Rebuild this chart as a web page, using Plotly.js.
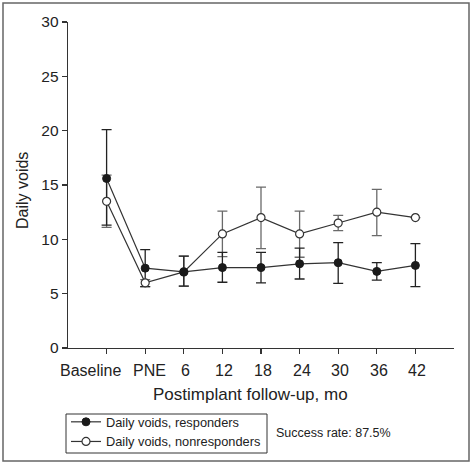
<!DOCTYPE html>
<html><head><meta charset="utf-8">
<script src="https://cdn.plot.ly/plotly-3.0.1.min.js"></script>
<style>body{margin:0;padding:0;background:#fff}#chart{width:476px;height:464px}</style>
</head><body><div id="chart"></div>
<script>
const categories = ["Baseline","PNE","6","12","18","24","30","36","42"];
const responders = [15.6, 7.35, 7.0, 7.4, 7.4, 7.75, 7.85, 7.05, 7.6];
const respErrPlus = [4.5, 1.7, 1.45, 1.4, 1.4, 1.45, 1.85, 0.8, 2.0];
const respErrMinus = [4.3, 1.7, 1.3, 1.35, 1.4, 1.4, 1.9, 0.8, 1.95];
const nonresponders = [13.5, 6.0, 7.0, 10.5, 12.0, 10.5, 11.5, 12.5, 12.0];
const nonErrPlus = [2.4, 0.3, 1.45, 2.1, 2.8, 2.1, 0.7, 2.1, 0];
const nonErrMinus = [2.4, 0.35, 1.3, 2.1, 2.85, 2.15, 0.7, 2.15, 0];
const legendNames = ["Daily voids, responders", "Daily voids, nonresponders"];
const xTitle = "Postimplant follow-up, mo";
const yTitle = "Daily voids";
const annotationText = "Success rate: 87.5%";

const errTrace = (y, plus, minus, color) => ({
  x: categories, y: y, type: "scatter", mode: "markers",
  marker: {size: 1, opacity: 0}, hoverinfo: "skip", showlegend: false,
  error_y: {type: "data", symmetric: false, array: plus, arrayminus: minus,
    color: color, thickness: 1.3, width: 5}
});

const traces = [
  errTrace(nonresponders, nonErrPlus, nonErrMinus, "#6a6a6a"),
  errTrace(responders, respErrPlus, respErrMinus, "#222"),
  {
    x: categories, y: nonresponders, name: legendNames[1], type: "scatter", mode: "lines+markers",
    line: {color: "#333", width: 1.2},
    marker: {symbol: "circle", size: 8, color: "#fff", line: {color: "#333", width: 1.2}},
    legendrank: 2
  },
  {
    x: categories, y: responders, name: legendNames[0], type: "scatter", mode: "lines+markers",
    line: {color: "#333", width: 1.2},
    marker: {symbol: "circle", size: 8, color: "#1a1a1a", line: {color: "#1a1a1a", width: 1}},
    legendrank: 1
  }
];

const W = 386, H = 326;
const px = p => (p - 68) / W;
const py = p => (348 - p) / H;

// x tick labels drawn as annotations at each category index (to allow offsets like the reference)
const tickShift = c => c === "Baseline" ? -16 : (c === "PNE" ? 4.5 : 2);
const tickAnns = categories.map((c, i) => ({
  text: c, xref: "x", yref: "paper", x: i, y: py(370), xshift: tickShift(c),
  xanchor: "center", yanchor: "middle", showarrow: false, font: {size: 16, color: "#222"}
}));

const layout = {
  width: 476, height: 464,
  margin: {l: 68, r: 22, t: 22, b: 116, autoexpand: false},
  paper_bgcolor: "#fff", plot_bgcolor: "#fff",
  font: {family: "Liberation Sans, Arial, sans-serif", color: "#222", size: 15},
  xaxis: {
    type: "category", categoryorder: "array", categoryarray: categories,
    range: [-1, 9], showgrid: false, zeroline: false, showline: true, linecolor: "#333", linewidth: 1.3,
    ticks: "outside", ticklen: 5, tickcolor: "#333", tickwidth: 1.2, showticklabels: false, automargin: false
  },
  yaxis: {
    range: [0, 30], tickvals: [0,5,10,15,20,25,30], automargin: false,
    showgrid: false, zeroline: false, showline: true, linecolor: "#333", linewidth: 1.3,
    ticks: "outside", ticklen: 5, tickcolor: "#333", tickwidth: 1.2,
    tickfont: {size: 15.5, color: "#222"}
  },
  legend: {
    x: px(66), y: py(407), xanchor: "left", yanchor: "top",
    borderwidth: 0, bgcolor: "rgba(0,0,0,0)",
    font: {size: 12.8, color: "#222"}, tracegroupgap: 0, itemwidth: 30,
    traceorder: "normal"
  },
  annotations: tickAnns.concat([
    {text: annotationText, xref: "paper", yref: "paper", x: px(274), y: py(433),
     xanchor: "left", yanchor: "middle", showarrow: false, font: {size: 12.5, color: "#222"}},
    {text: xTitle, xref: "paper", yref: "paper", x: px(250), y: py(394),
     xanchor: "center", yanchor: "middle", showarrow: false, font: {size: 17, color: "#222"}},
    {text: yTitle, xref: "paper", yref: "paper", x: px(22), y: py(191), textangle: -90,
     xanchor: "center", yanchor: "middle", showarrow: false, font: {size: 16, color: "#222"}}
  ]),
  shapes: [
    {type: "rect", xref: "paper", yref: "paper",
     x0: px(3), x1: px(469), y0: py(461), y1: py(3),
     line: {color: "#666", width: 1.5}, fillcolor: "rgba(0,0,0,0)", layer: "below"},
    {type: "rect", xref: "paper", yref: "paper",
     x0: px(66), x1: px(267), y0: py(453), y1: py(414),
     line: {color: "#333", width: 1}, fillcolor: "rgba(0,0,0,0)", layer: "below"}
  ]
};

Plotly.newPlot("chart", traces, layout, {displayModeBar: false, staticPlot: true});
</script></body></html>
